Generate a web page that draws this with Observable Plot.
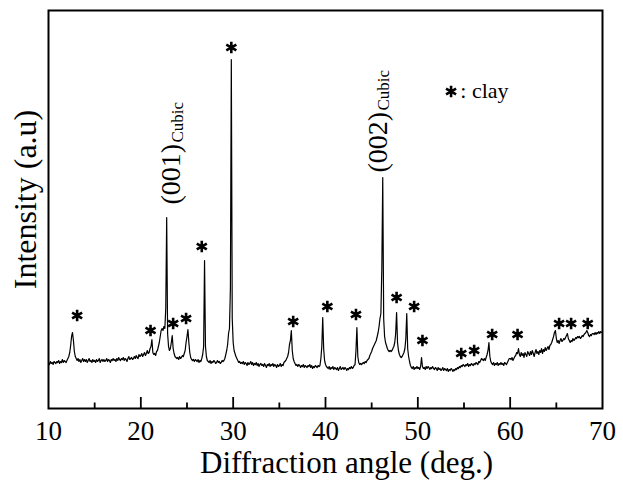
<!DOCTYPE html>
<html><head><meta charset="utf-8">
<script src="https://cdn.jsdelivr.net/npm/d3@7"></script>
<script src="https://cdn.jsdelivr.net/npm/@observablehq/plot@0.6"></script>
<style>html,body{margin:0;padding:0;background:#fff;}</style>
</head><body><div id="chart"></div>
<script>
// Diffraction angle sampling: 10.0 to 70.0 deg, step 0.1
const angleStart = 10, angleStep = 0.1;
// Intensity (a.u.), one row per degree
const intensity = [
45,44,47,45,46,44,47,46,45,47,
46,48,45,47,46,49,46,48,47,46,
48,50,52,56,63,72,76,68,57,52,
50,48,50,47,49,46,48,50,47,49,
47,49,46,48,50,47,48,46,49,47,
48,46,49,47,48,50,46,48,49,47,
49,47,48,50,47,49,48,46,49,48,
50,48,49,47,50,48,51,49,48,50,
49,51,48,50,49,47,50,52,49,50,
51,49,50,52,50,53,51,50,54,52,
53,55,52,54,56,53,55,58,55,56,
60,62,69,56,54,55,53,57,58,62,
66,72,78,80,78,82,80,100,191,75,
62,58,60,66,73,60,55,52,51,50,
51,49,52,50,51,53,52,55,58,66,
72,79,66,56,51,49,48,49,47,49,
48,47,49,46,48,47,50,54,62,148,
62,52,48,47,46,48,45,47,46,48,
47,45,46,48,46,47,45,46,48,47,
48,50,54,58,64,75,80,120,349,90,
66,58,55,52,50,48,46,47,45,46,
45,47,44,46,45,43,46,44,45,47,
44,46,43,45,44,46,43,45,42,44,
45,43,44,42,45,43,41,44,43,45,
42,44,43,45,42,44,43,41,44,42,
43,45,42,44,43,46,47,48,50,52,
56,64,68,78,58,50,47,45,43,44,
42,44,43,41,43,42,44,41,43,42,
41,43,42,44,41,43,40,42,41,43,
42,41,43,42,43,50,62,91,60,48,
44,42,41,40,42,39,41,40,42,39,
41,40,39,41,38,40,42,39,40,41,
39,41,40,38,40,39,41,40,42,40,
41,43,44,58,81,52,46,44,45,44,
45,46,45,47,46,48,49,50,53,55,
57,60,62,64,66,68,72,76,82,90,
95,140,231,90,72,66,63,60,58,57,
58,57,58,60,62,66,75,96,66,58,
54,52,51,52,54,56,60,70,95,60,
52,47,43,41,40,42,39,41,40,42,
40,41,39,42,51,42,40,41,39,42,
40,42,41,39,41,40,42,40,39,41,
40,38,41,39,40,38,39,41,38,40,
39,38,40,37,39,38,40,39,37,39,
38,40,39,41,40,42,41,43,42,44,
43,42,44,43,45,42,44,43,45,44,
43,45,44,46,45,44,47,46,48,50,
49,48,50,48,51,54,58,66,52,47,
45,44,46,43,45,44,46,43,45,44,
46,44,45,43,46,45,44,46,48,50,
50,49,51,48,50,52,53,56,55,60,
54,52,56,53,55,51,56,54,52,57,
55,53,57,54,58,55,52,56,59,55,
57,54,58,56,60,55,59,57,61,58,
60,62,59,63,64,66,69,72,76,78,
70,66,68,65,68,70,67,68,70,69,
71,73,75,70,68,66,68,67,70,68,
69,71,70,72,71,72,70,71,73,72,
74,75,76,78,76,73,72,74,73,75,
75,74,76,74,76,75,77,75,77,76,
76
];

const xTicks = [10, 20, 30, 40, 50, 60, 70];
const majorTicks = [20, 30, 40, 50, 60];
const minorTicks = [15, 25, 35, 45, 55, 65];

// clay peak markers (*)
const clayAngle  = [13.1, 21.05, 23.5, 24.9, 26.6, 29.8, 36.5, 40.2, 43.3, 47.7, 49.6, 50.5, 54.7, 56.1, 58.05, 60.8, 65.3, 66.6, 68.4];
const clayHeight = [93, 78, 85, 90, 162, 361, 87, 102, 94, 111, 102, 68, 55, 58, 74, 74, 85, 85, 85];

// cubic peak labels
const cubicLabels = ["(001)", "(002)"];
const cubicAngle = [23.3, 45.64];
const cubicBase = [204, 236];
const cubicSub = ["Cubic", "Cubic"];
const cubicSubAngle = [23.93, 46.27];
const cubicSubBase = [266, 298];

const legendSymbolAngle = [53.6];
const legendSymbolHeight = [317];
const legendText = [": clay"];
const legendTextAngle = [54.6];
const legendTextHeight = [318];

const xTitle = "Diffraction angle (deg.)";
const yTitle = "Intensity (a.u)";

const data = intensity.map((v, i) => ({angle: +(angleStart + i * angleStep).toFixed(1), value: v}));
const clay = clayAngle.map((a, i) => ({angle: a, value: clayHeight[i]}));
const cubic = cubicLabels.map((t, i) => ({t, angle: cubicAngle[i], value: cubicBase[i]}));
const cubicS = cubicSub.map((t, i) => ({t, angle: cubicSubAngle[i], value: cubicSubBase[i]}));
const legSym = legendSymbolAngle.map((a, i) => ({angle: a, value: legendSymbolHeight[i]}));
const legTxt = legendText.map((t, i) => ({t, angle: legendTextAngle[i], value: legendTextHeight[i]}));

const font = "'Liberation Serif', 'Times New Roman', serif";

const chart = Plot.plot({
  width: 623,
  height: 481,
  marginLeft: 48,
  marginRight: 21,
  marginTop: 10,
  marginBottom: 73,
  style: {fontFamily: font, background: "#fff", color: "#000", overflow: "visible"},
  x: {domain: [10, 70], axis: null},
  y: {domain: [0, 398], axis: null},
  marks: [
    Plot.line(data, {x: "angle", y: "value", stroke: "#000", strokeWidth: 1.2}),
    Plot.ruleX(majorTicks, {x: d => d, y1: 0, y2: 11, stroke: "#000", strokeWidth: 1.8}),
    Plot.ruleX(minorTicks, {x: d => d, y1: 0, y2: 5.5, stroke: "#000", strokeWidth: 1.8}),
    Plot.frame({stroke: "#000", strokeWidth: 2}),
    Plot.axisX({ticks: xTicks, tickSize: 0, tickPadding: 12, fontSize: 27, label: null, tickFormat: d => String(d)}),
    Plot.dot(clay, {x: "angle", y: "value", symbol: "asterisk", r: 5.5, stroke: "#000", strokeWidth: 2.6}),
    Plot.dot(legSym, {x: "angle", y: "value", symbol: "asterisk", r: 5.5, stroke: "#000", strokeWidth: 2.6}),
    Plot.text(legTxt, {x: "angle", y: "value", text: "t", textAnchor: "start", lineAnchor: "middle", fontSize: 22, fill: "#000"}),
    Plot.text(cubic, {x: "angle", y: "value", text: "t", rotate: -90, textAnchor: "start", lineAnchor: "middle", fontSize: 28, fill: "#000"}),
    Plot.text(cubicS, {x: "angle", y: "value", text: "t", rotate: -90, textAnchor: "start", lineAnchor: "middle", fontSize: 17, fill: "#000"}),
    Plot.text([xTitle], {text: d => d, frameAnchor: "bottom", textAnchor: "middle", dx: 21, dy: 55, lineAnchor: "middle", fontSize: 31, fill: "#000"}),
    Plot.text([yTitle], {text: d => d, frameAnchor: "left", textAnchor: "middle", dx: -23, dy: -10, rotate: -90, lineAnchor: "middle", fontSize: 32, fill: "#000"})
  ]
});
document.getElementById("chart").appendChild(chart);
</script>
</body></html>
